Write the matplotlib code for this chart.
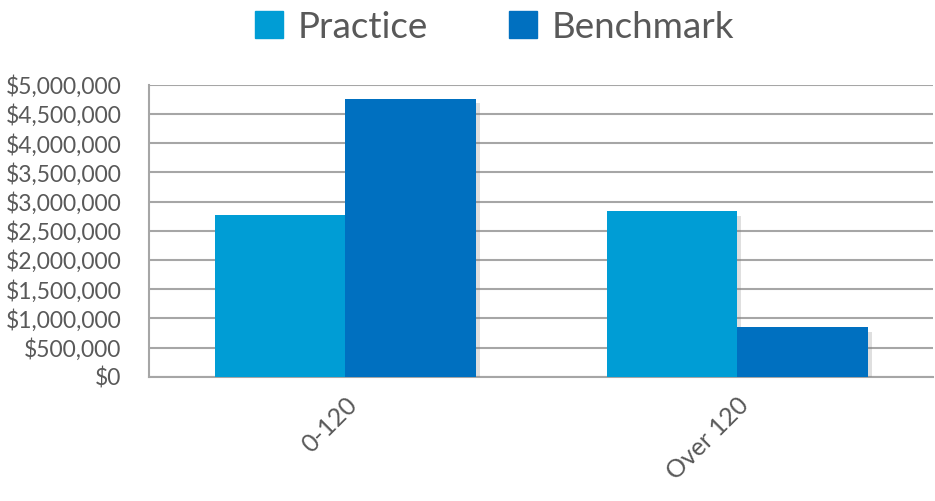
import matplotlib.pyplot as plt
import matplotlib.patheffects as pe
from matplotlib.patches import Patch
from matplotlib.ticker import FuncFormatter, MultipleLocator
import numpy as np

plt.rcParams['font.family'] = ['Lato', 'DejaVu Sans']

categorias = ['0-120', 'Over 120']
practice = [2770000, 2830000]
benchmark = [4750000, 845000]

color_practice = '#009DD5'
color_benchmark = '#0070C0'
gris = '#A6A6A6'
texto = '#595959'

fig = plt.figure(figsize=(9.35, 5.01), dpi=100)
ax = fig.add_axes([0.1594, 0.2481, 0.8385, 0.5828])

x = np.arange(len(categorias))
ancho = 0.333
sombra = [pe.SimplePatchShadow(offset=(3, -3), shadow_rgbFace='#808080', alpha=0.25), pe.Normal()]
b1 = ax.bar(x - ancho / 2, practice, ancho, color=color_practice, zorder=3)
b2 = ax.bar(x + ancho / 2, benchmark, ancho, color=color_benchmark, zorder=3)
for barra in list(b1) + list(b2):
    barra.set_path_effects(sombra)

ax.set_xlim(-0.5, 1.5)
ax.set_ylim(0, 5000000)
ax.yaxis.set_major_locator(MultipleLocator(500000))
ax.yaxis.set_major_formatter(FuncFormatter(lambda v, p: f'${v:,.0f}'))
ax.grid(axis='y', color=gris, linewidth=1.5, zorder=0)
ax.set_axisbelow(True)

for lado in ['top', 'right']:
    ax.spines[lado].set_visible(False)
for lado in ['left', 'bottom']:
    ax.spines[lado].set_color(gris)
    ax.spines[lado].set_linewidth(1.5)

ax.tick_params(axis='y', length=0, labelsize=16.5, labelcolor=texto, pad=20)
ax.tick_params(axis='x', length=0, labelsize=18, labelcolor=texto, pad=12)
ax.set_xticks(x)
ax.set_xticklabels(categorias, rotation=45, ha='right', rotation_mode='anchor')

handles = [Patch(color=color_practice, label='Practice'),
           Patch(color=color_benchmark, label='Benchmark')]
fig.legend(handles=handles, loc='upper center', bbox_to_anchor=(0.529, 1.045), ncol=2,
           frameon=False, fontsize=26.5, labelcolor=texto, handlelength=0.75,
           handleheight=0.75, handletextpad=0.4, columnspacing=2.2)

fig.savefig('out.png', dpi=100)
